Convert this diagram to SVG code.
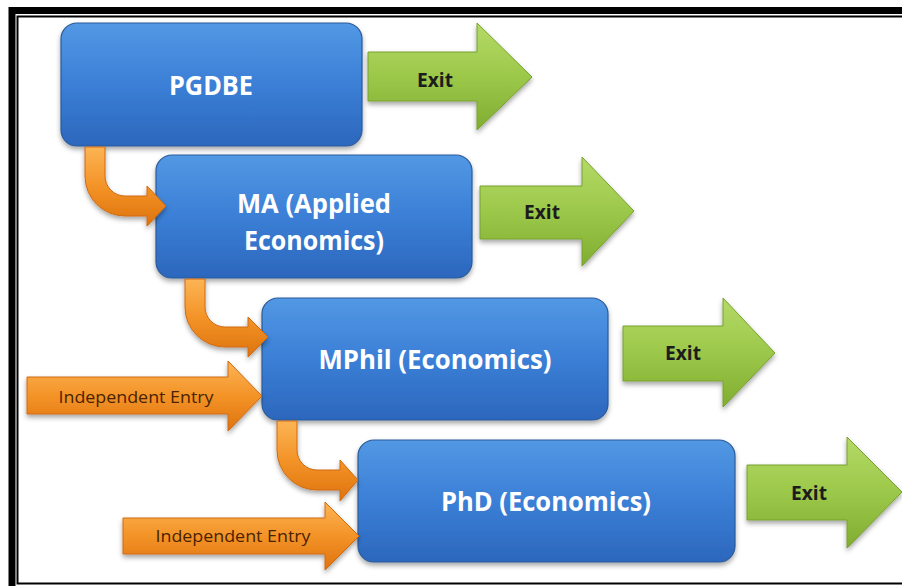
<svg xmlns="http://www.w3.org/2000/svg" width="902" height="586" viewBox="0 0 902 586">
  <defs>
    <linearGradient id="gBlue" x1="0" y1="0" x2="0" y2="1">
      <stop offset="0" stop-color="#5298e4"/>
      <stop offset="0.5" stop-color="#3b7fd6"/>
      <stop offset="1" stop-color="#2c67bd"/>
    </linearGradient>
    <linearGradient id="gGreen" x1="0" y1="0" x2="0" y2="1">
      <stop offset="0" stop-color="#b4da66"/>
      <stop offset="0.5" stop-color="#9cc84a"/>
      <stop offset="1" stop-color="#80ad30"/>
    </linearGradient>
    <linearGradient id="gOrange" x1="0" y1="0" x2="0" y2="1">
      <stop offset="0" stop-color="#fcb455"/>
      <stop offset="0.5" stop-color="#f39327"/>
      <stop offset="1" stop-color="#de730e"/>
    </linearGradient>
    <filter id="shadow" x="-10%" y="-10%" width="120%" height="130%">
      <feDropShadow dx="0" dy="3" stdDeviation="2.5" flood-color="#000" flood-opacity="0.35"/>
    </filter>
  </defs>
  <style>
    .box { fill: url(#gBlue); stroke: #2a5a9a; stroke-width: 1.2; filter: url(#shadow); }
    .btxt { font-family: "Open Sans", "Liberation Sans", sans-serif; font-weight: bold; fill: #ffffff; text-anchor: middle; }
    .exit { fill: url(#gGreen); stroke: #78a030; stroke-width: 1; filter: url(#shadow); }
    .etxt { font-family: "Open Sans", "Liberation Sans", sans-serif; font-weight: bold; font-size: 20px; fill: #1c1c1c; text-anchor: middle; }
    .orange { fill: url(#gOrange); stroke: #d06a10; stroke-width: 1; filter: url(#shadow); }
    .itxt { font-family: "Open Sans", "Liberation Sans", sans-serif; font-size: 16px; fill: #4a2200; text-anchor: middle; }
    .frame { fill: none; stroke: #000; }
  </style>
  <rect x="0" y="0" width="902" height="586" fill="#ffffff"/>
  <!-- frame -->
  <rect class="frame" x="12" y="10.5" width="1000" height="1000" stroke-width="7"/>
  <path class="frame" d="M902,16.5 H17.5 V583.5 H902" stroke-width="2"/>

  <!-- nodes -->
  <g id="pgdbe">
    <rect class="box" x="61" y="23" width="301" height="123" rx="16"/>
    <text class="btxt" x="211" y="95" font-size="27" textLength="84" lengthAdjust="spacingAndGlyphs">PGDBE</text>
  </g>
  <g id="ma">
    <rect class="box" x="156" y="155" width="316" height="123" rx="16"/>
    <text class="btxt" x="314" y="213" font-size="27" textLength="154" lengthAdjust="spacingAndGlyphs">MA (Applied</text>
    <text class="btxt" x="314" y="250" font-size="27" textLength="140" lengthAdjust="spacingAndGlyphs">Economics)</text>
  </g>
  <g id="mphil">
    <rect class="box" x="262" y="298" width="346" height="122" rx="16"/>
    <text class="btxt" x="435" y="369" font-size="27" textLength="233" lengthAdjust="spacingAndGlyphs">MPhil (Economics)</text>
  </g>
  <g id="phd">
    <rect class="box" x="358" y="440" width="377" height="122" rx="16"/>
    <text class="btxt" x="546" y="511" font-size="27" textLength="210" lengthAdjust="spacingAndGlyphs">PhD (Economics)</text>
  </g>

  <g id="exit1">
    <polygon class="exit" points="368,52 477,52 477,23 532,77 477,130 477,101 368,101"/>
    <text class="etxt" x="435" y="87" textLength="36" lengthAdjust="spacingAndGlyphs">Exit</text>
  </g>
  <g id="exit2">
    <polygon class="exit" points="480,186 582,186 582,157 634,211 582,266 582,239 480,239"/>
    <text class="etxt" x="542" y="219" textLength="36" lengthAdjust="spacingAndGlyphs">Exit</text>
  </g>
  <g id="exit3">
    <polygon class="exit" points="623,326 723,326 723,298 775,353 723,407 723,381 623,381"/>
    <text class="etxt" x="683" y="360" textLength="36" lengthAdjust="spacingAndGlyphs">Exit</text>
  </g>
  <g id="exit4">
    <polygon class="exit" points="747,465 847,465 847,437 902,492 847,548 847,520 747,520"/>
    <text class="etxt" x="809" y="500" textLength="36" lengthAdjust="spacingAndGlyphs">Exit</text>
  </g>

  <g id="entry1">
    <polygon class="orange" points="27,377 228,377 228,361 262,396 228,431 228,414 27,414"/>
    <text class="itxt" x="136" y="403" textLength="155" lengthAdjust="spacingAndGlyphs">Independent Entry</text>
  </g>
  <g id="entry2">
    <polygon class="orange" points="123,518 325,518 325,502 359,536 325,570 325,554 123,554"/>
    <text class="itxt" x="233" y="542" textLength="155" lengthAdjust="spacingAndGlyphs">Independent Entry</text>
  </g>

  <!-- connectors -->
  <g id="connectors">
    <path class="orange" d="M85,147 V176 A40,40 0 0 0 125,216 H147 V226 L166,206 L147,186 V196 H125 A20,20 0 0 1 105,176 V147 Z"/>
    <path class="orange" d="M185,279 V307 A40,40 0 0 0 225,347 H248 V357 L268,337 L248,317 V327 H225 A20,20 0 0 1 205,307 V279 Z"/>
    <path class="orange" d="M277,421 V450 A40,40 0 0 0 317,490 H340 V501 L358,480 L340,460 V470 H317 A20,20 0 0 1 297,450 V421 Z"/>
  </g>
</svg>
